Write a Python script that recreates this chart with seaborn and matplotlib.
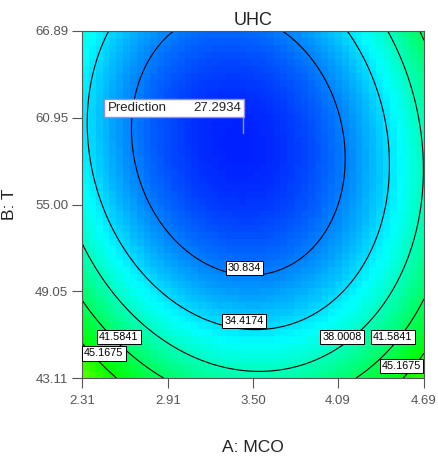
import numpy as np
import matplotlib
matplotlib.use("Agg")
import matplotlib.pyplot as plt
from matplotlib.colors import LinearSegmentedColormap
from matplotlib.patches import Rectangle
import seaborn as sns

# ---- data ----
a_range = [2.31, 4.69]          # A: MCO (actual units)
b_range = [43.11, 66.89]        # B: T (actual units)
x_ticks = [2.31, 2.91, 3.50, 4.09, 4.69]
y_ticks = [43.11, 49.05, 55.00, 60.95, 66.89]
x_tick_labels = ["2.31", "2.91", "3.50", "4.09", "4.69"]
y_tick_labels = ["43.11", "49.05", "55.00", "60.95", "66.89"]
# quadratic response-surface model in coded factors (estimated from the contours)
coef_terms = ["Intercept", "A", "B", "AB", "A^2", "B^2"]
coef_values = [28.04, 0.99, -4.28, 1.73, 9.30, 6.33]
contour_levels = [30.834, 34.4174, 38.0008, 41.5841, 45.1675]
prediction_point = [3.42, 59.9]
prediction_value = 27.2934

sns.set_theme(style="white")
plt.rcParams['font.family'] = ['Liberation Sans', 'DejaVu Sans']


def coded(v, rng):
    c = (rng[0] + rng[1]) / 2.0
    h = (rng[1] - rng[0]) / 2.0
    return (v - c) / h


def uhc(A, B):
    X = coded(A, a_range)
    Y = coded(B, b_range)
    c = dict(zip(coef_terms, coef_values))
    return (c["Intercept"] + c["A"] * X + c["B"] * Y + c["AB"] * X * Y
            + c["A^2"] * X ** 2 + c["B^2"] * Y ** 2)


cmap = LinearSegmentedColormap.from_list(
    "de", ["#0000ff", "#00ffff", "#00ff00", "#ffff00", "#ff0000"])

fig = plt.figure(figsize=(4.38, 4.61), dpi=100)
ax = fig.add_axes([82 / 438, 1 - 378 / 461, 342 / 438, 347 / 461])

# coarse coloured cells
n = 50
ea = np.linspace(a_range[0], a_range[1], n + 1)
eb = np.linspace(b_range[0], b_range[1], n + 1)
ca = (ea[:-1] + ea[1:]) / 2
cb = (eb[:-1] + eb[1:]) / 2
CA, CB = np.meshgrid(ca, cb)
ax.pcolormesh(ea, eb, uhc(CA, CB), cmap=cmap, vmin=26, vmax=64, shading='flat')

# contour lines
fa = np.linspace(a_range[0], a_range[1], 300)
fb = np.linspace(b_range[0], b_range[1], 300)
FA, FB = np.meshgrid(fa, fb)
cs = ax.contour(FA, FB, uhc(FA, FB), levels=contour_levels, colors='black',
                linewidths=0.8)

# contour labels (level index, position)
label_layout = [(0, 3.441, 50.65), (1, 3.437, 47.02), (2, 4.119, 45.95),
                (3, 2.567, 45.95), (3, 4.474, 45.95), (4, 2.462, 44.79),
                (4, 4.533, 43.93)]
for idx, la, lb in label_layout:
    ax.text(la, lb, f"{contour_levels[idx]:.6g}", ha='center', va='center',
            fontsize=7.8, color='black', zorder=5, clip_on=True,
            bbox=dict(facecolor='white', edgecolor='black', pad=1.5, linewidth=0.7))

# prediction flag
pa, pb = prediction_point
box_left, box_right = pa - 0.957, pa + 0.017
box_bot, box_top = pb + 1.10, pb + 2.33
ax.add_patch(Rectangle((box_left, box_bot), box_right - box_left, box_top - box_bot,
                       facecolor='white', edgecolor='#9a8ce6', linewidth=1.0, zorder=6))
ax.plot([pa + 0.01, pa + 0.01], [pb, box_bot], color='#9a8ce6', linewidth=1.0, zorder=6)
ax.text(box_left + 0.03, (box_bot + box_top) / 2, "Prediction", ha='left', va='center',
        fontsize=9.5, color='#222222', zorder=7)
ax.text(box_right - 0.02, (box_bot + box_top) / 2, f"{prediction_value:.4f}", ha='right',
        va='center', fontsize=9.5, color='#222222', zorder=7)

ax.set_xlim(a_range)
ax.set_ylim(b_range)
ax.set_xticks(x_ticks)
ax.set_xticklabels(x_tick_labels)
ax.set_yticks(y_ticks)
ax.set_yticklabels(y_tick_labels)
ax.tick_params(axis='both', which='major', bottom=True, left=True, direction='out',
               length=7, width=0.8, color='#555555', labelsize=9.5,
               labelcolor='#555555', pad=3)
ax.tick_params(axis='x', pad=5)
for s in ax.spines.values():
    s.set_color('#555555')
    s.set_linewidth(0.8)

ax.set_title("UHC", fontsize=13, color='#222222', pad=4)
ax.set_xlabel("A: MCO", fontsize=12.5, color='#222222')
ax.set_ylabel("B: T", fontsize=12.5, color='#222222')
ax.xaxis.set_label_coords(0.5, -0.18)
ax.yaxis.set_label_coords(-0.19, 0.5)

fig.savefig("out.png", dpi=100)
